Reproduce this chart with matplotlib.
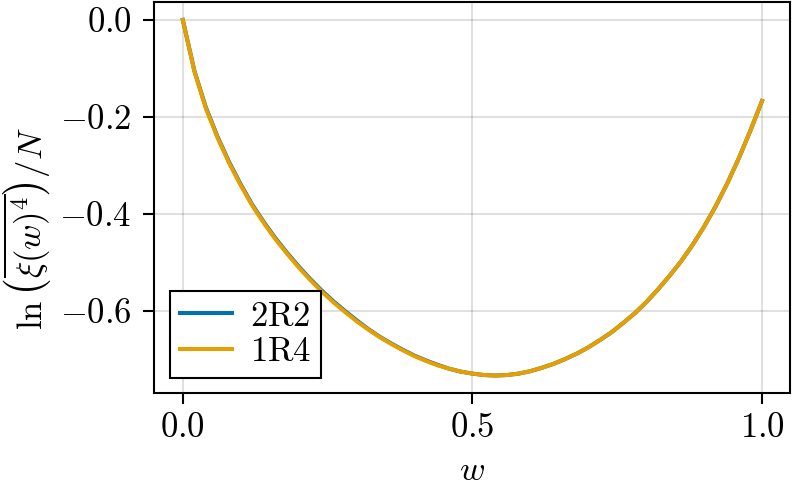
import numpy as np
import matplotlib
matplotlib.use("Agg")
import matplotlib.pyplot as plt

# wartości (krok 0.02)
w = [0.00, 0.02, 0.04, 0.06, 0.08, 0.10, 0.12, 0.14, 0.16, 0.18, 0.20, 0.22, 0.24,
     0.26, 0.28, 0.30, 0.32, 0.34, 0.36, 0.38, 0.40, 0.42, 0.44, 0.46, 0.48, 0.50,
     0.52, 0.54, 0.56, 0.58, 0.60, 0.62, 0.64, 0.66, 0.68, 0.70, 0.72, 0.74, 0.76,
     0.78, 0.80, 0.82, 0.84, 0.86, 0.88, 0.90, 0.92, 0.94, 0.96, 0.98, 1.00]
val_1r4 = [0.000, -0.106, -0.183, -0.243, -0.295, -0.341, -0.383, -0.419, -0.452,
           -0.482, -0.510, -0.536, -0.560, -0.582, -0.602, -0.621, -0.638, -0.654,
           -0.668, -0.681, -0.693, -0.703, -0.712, -0.719, -0.725, -0.729, -0.732,
           -0.733, -0.732, -0.729, -0.724, -0.717, -0.709, -0.699, -0.688, -0.675,
           -0.660, -0.644, -0.625, -0.605, -0.582, -0.556, -0.528, -0.498, -0.464,
           -0.426, -0.384, -0.337, -0.285, -0.228, -0.167]
val_2r2 = [0.000, -0.105, -0.181, -0.241, -0.293, -0.339, -0.381, -0.417, -0.450,
           -0.480, -0.508, -0.534, -0.558, -0.580, -0.600, -0.619, -0.637, -0.653,
           -0.667, -0.680, -0.692, -0.702, -0.711, -0.719, -0.725, -0.729, -0.732,
           -0.733, -0.732, -0.729, -0.724, -0.717, -0.709, -0.699, -0.688, -0.675,
           -0.660, -0.644, -0.625, -0.605, -0.582, -0.556, -0.528, -0.498, -0.464,
           -0.426, -0.384, -0.337, -0.285, -0.228, -0.167]
xticks = [0.0, 0.5, 1.0]
yticks = [0.0, -0.2, -0.4, -0.6]

plt.rcParams['mathtext.fontset'] = 'cm'
plt.rcParams['font.family'] = 'serif'
plt.rcParams['font.serif'] = ['cmr10', 'DejaVu Serif']
fs = 25

fig = plt.figure(figsize=(7.93, 4.91), dpi=100)
ax = fig.add_axes([0.194, 0.1996, 0.802, 0.7964])

ax.plot(w, val_2r2, color='#0072B2', lw=2.9, label=r'$\mathrm{2R2}$')
ax.plot(w, val_1r4, color='#E69F00', lw=2.9, label=r'$\mathrm{1R4}$')

ax.set_xlim(-0.05, 1.048)
ax.set_ylim(-0.769, 0.037)
ax.set_xticks(xticks)
ax.set_xticklabels([f'${t:.1f}$' for t in xticks], fontsize=fs)
ax.set_yticks(yticks)
ax.set_yticklabels([f'${t:.1f}$' for t in yticks], fontsize=fs)
ax.tick_params(axis='x', direction='out', length=8, width=1.5, pad=6)
ax.tick_params(axis='y', direction='out', length=8, width=1.5, pad=8)
ax.grid(True, color='black', alpha=0.12, lw=1.5)
for s in ax.spines.values():
    s.set_linewidth(1.5)

ax.set_xlabel(r'$w$', fontsize=fs, labelpad=8)
ax.set_ylabel(r'$\ln\left(\overline{\xi(w)^4}\right)/N$', fontsize=fs)
ax.yaxis.set_label_coords(-0.158, 0.42)

leg = ax.legend(loc='lower left', bbox_to_anchor=(0.025, 0.038), borderaxespad=0,
                fontsize=fs, fancybox=False, framealpha=1, edgecolor='black',
                handlelength=1.5, labelspacing=0.1, borderpad=0.3, handletextpad=0.5)
leg.get_frame().set_linewidth(1.5)

fig.savefig('out.png', dpi=100)
